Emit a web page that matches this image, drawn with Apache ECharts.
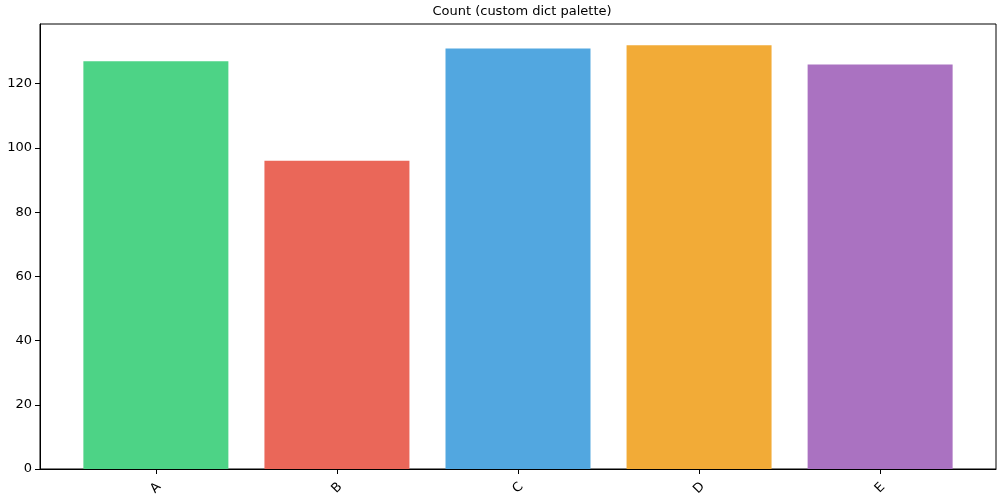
<!DOCTYPE html>
<html><head><meta charset="utf-8">
<script src="https://cdn.jsdelivr.net/npm/echarts@6/dist/echarts.min.js"></script>
<style>html,body{margin:0;padding:0;background:#fff}#c{width:1000px;height:500px}</style>
</head><body><div id="c"></div>
<script>
const categories = ['A','B','C','D','E'];
const counts = [127, 96, 131, 132, 126];
const colors = ['#4dd386','#ea6759','#52a7e0','#f2ab37','#aa72c1'];
const yTicks = [0,20,40,60,80,100,120];

const chart = echarts.init(document.getElementById('c'), null, {renderer:'canvas'});
const font = 'DejaVu Sans';
chart.setOption({
  animation:false,
  title:{text:'Count (custom dict palette)', left:517, top:0, textAlign:'center',
    textStyle:{fontFamily:font, fontSize:13, fontWeight:'normal', color:'#000'}},
  grid:{left:40, right:4, top:24, bottom:31, show:true, borderColor:'#000', borderWidth:1, containLabel:false},
  xAxis:{type:'value', min:-0.64, max:4.64, splitLine:{show:false},
    axisLine:{show:true, onZero:false, lineStyle:{color:'#000'}},
    axisTick:{show:true, customValues:[0,1,2,3,4], length:5, lineStyle:{color:'#000'}},
    axisLabel:{customValues:[0,1,2,3,4], rotate:45, align:'center', verticalAlign:'middle',
      formatter:v=>categories[Math.round(v)],
      fontFamily:font, fontSize:13, color:'#000', margin:19}},
  yAxis:{type:'value', min:0, max:138.6, interval:20, splitLine:{show:false},
    axisLine:{show:true, onZero:false, lineStyle:{color:'#000'}},
    axisTick:{show:true, customValues:yTicks, length:5, lineStyle:{color:'#000'}},
    axisLabel:{customValues:yTicks, fontFamily:font, fontSize:13, color:'#000', margin:8}},
  series:[{type:'bar', barWidth:145,
    data:counts.map((v,i)=>({value:[i,v], itemStyle:{color:colors[i]}}))}]
});
</script></body></html>
